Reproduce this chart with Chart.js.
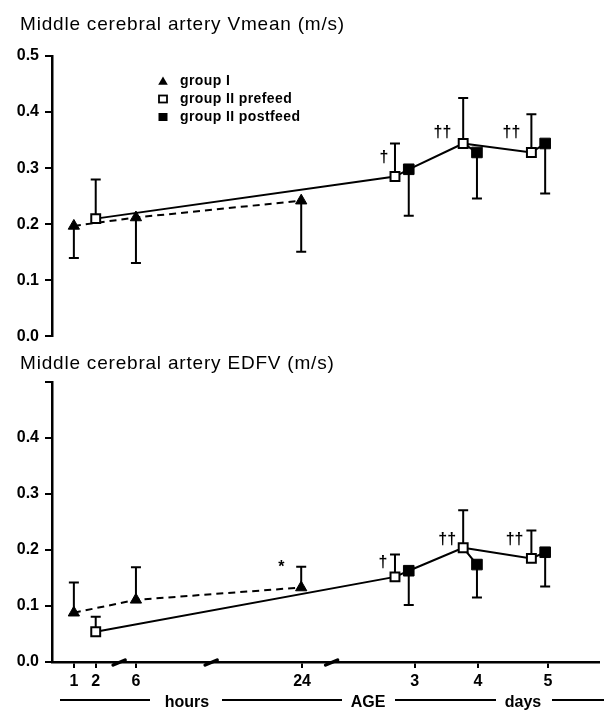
<!DOCTYPE html>
<html>
<head>
<meta charset="utf-8">
<script src="https://cdn.jsdelivr.net/npm/chart.js@4.4.0/dist/chart.umd.min.js"></script>
<style>
  html, body { margin: 0; padding: 0; background: #fff; }
  canvas { display: block; }
  #edfvChart { margin-top: -7px; position: relative; }
</style>
</head>
<body>
<canvas id="vmeanChart" width="607" height="352"></canvas>
<canvas id="edfvChart" width="607" height="365"></canvas>
<script>
// age axis is broken, so points sit on a 0..25 "axis unit" scale
const tickPos = [1, 2, 3.84, 11.44, 16.59, 19.48, 22.69];
const tickLabels = ['1', '2', '6', '24', '3', '4', '5'];
const breakPos = [3.07, 7.28, 12.79];

const groupIx = [1, 3.84, 11.4];       // 1 h, 6 h, 24 h
const prefeedX = [2, 15.69, 18.81, 21.93];  // 2 h, day 3, 4, 5
const postfeedX = [16.32, 19.44, 22.56];    // day 3, 4, 5

// Vmean (m/s)
const vmeanGroupI = [0.197, 0.212, 0.242];
const vmeanGroupILow = [0.140, 0.131, 0.151];
const vmeanPre = [0.210, 0.285, 0.344, 0.328];
const vmeanPreHigh = [0.280, 0.344, 0.425, 0.396];
const vmeanPost = [0.298, 0.328, 0.344];
const vmeanPostLow = [0.215, 0.246, 0.255];

// EDFV (m/s)
const edfvGroupI = [0.088, 0.111, 0.133];
const edfvGroupIHigh = [0.142, 0.169, 0.170];
const edfvPre = [0.054, 0.152, 0.204, 0.185];
const edfvPreHigh = [0.081, 0.192, 0.271, 0.235];
const edfvPost = [0.163, 0.174, 0.196];
const edfvPostLow = [0.102, 0.115, 0.135];

// significance marks
const vmeanMarkText = ['\u2020', '\u2020\u2020', '\u2020\u2020'];
const vmeanMarkX = [15.19, 17.86, 21.02];
const vmeanMarkY = [0.319, 0.364, 0.364];
const edfvMarkText = ['*', '\u2020', '\u2020\u2020', '\u2020\u2020'];
const edfvMarkX = [10.49, 15.14, 18.08, 21.16];
const edfvMarkY = [0.168, 0.177, 0.218, 0.218];

const legendLabels = ['group I', 'group II prefeed', 'group II postfeed'];

const FONT = "'Liberation Sans', Arial, sans-serif";

function pts(xs, ys) {
  return xs.map((x, i) => ({ x: x, y: ys[i] }));
}

// group II line: 2h -> d3 pre -> d3 post -> d4 pre -> d4 post, then d4 pre -> d5 pre -> d5 post
function groupIIPath(pre, post) {
  return [
    { x: prefeedX[0], y: pre[0] },
    { x: prefeedX[1], y: pre[1] },
    { x: postfeedX[0], y: post[0] },
    { x: prefeedX[2], y: pre[2] },
    { x: postfeedX[1], y: post[1] },
    { x: postfeedX[1] + 0.01, y: null },
    { x: prefeedX[2], y: pre[2] },
    { x: prefeedX[3], y: pre[3] },
    { x: postfeedX[2], y: post[2] }
  ];
}

function makeDatasets(gI, pre, post) {
  return [
    {
      label: 'group II prefeed', data: pts(prefeedX, pre), showLine: false,
      pointStyle: 'rect', pointRadius: 6.3, pointBackgroundColor: '#fff',
      pointBorderColor: '#000', pointBorderWidth: 2, order: 0
    },
    {
      label: 'group II postfeed', data: pts(postfeedX, post), showLine: false,
      pointStyle: 'rect', pointRadius: 7.5, pointBackgroundColor: '#000',
      pointBorderColor: '#000', pointBorderWidth: 1, order: 1
    },
    {
      label: 'group I', data: pts(groupIx, gI), showLine: true,
      borderColor: '#000', borderWidth: 2, borderDash: [7, 5],
      pointStyle: 'triangle', pointRadius: 6.5, pointBackgroundColor: '#000',
      pointBorderColor: '#000', pointBorderWidth: 1, order: 2
    },
    {
      label: 'group II', data: groupIIPath(pre, post), showLine: true, spanGaps: false,
      borderColor: '#000', borderWidth: 2, pointRadius: 0, order: 3
    }
  ];
}

function drawTri(ctx, x, y, r) {
  ctx.beginPath();
  ctx.moveTo(x, y - r);
  ctx.lineTo(x + r * 0.87, y + r * 0.5);
  ctx.lineTo(x - r * 0.87, y + r * 0.5);
  ctx.closePath();
  ctx.fill();
}

function makeOverlay(cfg) {
  return {
    id: 'overlay',
    beforeDatasetsDraw(chart) {
      const ctx = chart.ctx, xs = chart.scales.x, ys = chart.scales.y;
      ctx.save();
      ctx.strokeStyle = '#000';
      ctx.lineWidth = 2;
      cfg.bars.forEach(b => {
        b.x.forEach((xv, i) => {
          const px = xs.getPixelForValue(xv);
          const p0 = ys.getPixelForValue(b.y[i]);
          const p1 = ys.getPixelForValue(b.end[i]);
          ctx.beginPath();
          ctx.moveTo(px, p0);
          ctx.lineTo(px, p1);
          ctx.moveTo(px - 5, p1);
          ctx.lineTo(px + 5, p1);
          ctx.stroke();
        });
      });
      ctx.restore();
    },
    afterDraw(chart) {
      const ctx = chart.ctx, xs = chart.scales.x, ys = chart.scales.y;
      ctx.save();
      ctx.fillStyle = '#000';
      ctx.strokeStyle = '#000';

      // panel title
      ctx.font = '19px ' + FONT;
      ctx.letterSpacing = '0.8px';
      ctx.textAlign = 'left';
      ctx.textBaseline = 'alphabetic';
      ctx.fillText(cfg.title, 20, cfg.titleY);
      ctx.letterSpacing = '0px';

      // significance marks
      ctx.font = 'bold 16px ' + FONT;
      ctx.textAlign = 'center';
      ctx.textBaseline = 'middle';
      cfg.marks.text.forEach((t, i) => {
        ctx.fillText(t, xs.getPixelForValue(cfg.marks.x[i]), ys.getPixelForValue(cfg.marks.y[i]));
      });

      if (cfg.legend) {
        const lx = 163, rows = [81, 99, 117];
        drawTri(ctx, lx, rows[0] + 1, 5.5);
        ctx.lineWidth = 1.8;
        ctx.fillStyle = '#fff';
        ctx.fillRect(lx - 4, rows[1] - 3.5, 8, 7);
        ctx.strokeRect(lx - 4, rows[1] - 3.5, 8, 7);
        ctx.fillStyle = '#000';
        ctx.fillRect(lx - 4.5, rows[2] - 4, 9, 8);
        ctx.font = 'bold 14px ' + FONT;
        ctx.letterSpacing = '0.4px';
        ctx.textAlign = 'left';
        legendLabels.forEach((t, i) => ctx.fillText(t, 180, rows[i]));
        ctx.letterSpacing = '0px';
      }

      if (cfg.axisBreaks) {
        const ay = chart.chartArea.bottom;
        ctx.lineWidth = 3.5;
        ctx.lineCap = 'round';
        breakPos.forEach(v => {
          const px = xs.getPixelForValue(v);
          ctx.beginPath();
          ctx.moveTo(px - 6, ay + 3);
          ctx.lineTo(px + 6, ay - 2);
          ctx.stroke();
        });

        // "hours --- AGE --- days ---" row
        const rowY = 355, textY = 362;
        ctx.font = 'bold 16px ' + FONT;
        ctx.textAlign = 'center';
        ctx.textBaseline = 'alphabetic';
        const words = [['hours', 187], ['AGE', 368], ['days', 523]];
        words.forEach(w => ctx.fillText(w[0], w[1], textY));
        ctx.lineWidth = 2;
        ctx.lineCap = 'butt';
        const segs = [[60, 150], [222, 342], [395, 496], [552, 604]];
        segs.forEach(s => {
          ctx.beginPath();
          ctx.moveTo(s[0], rowY);
          ctx.lineTo(s[1], rowY);
          ctx.stroke();
        });
      }
      ctx.restore();
    }
  };
}

function yAxis(hideTop) {
  return {
    min: 0, max: 0.5,
    afterFit: s => { s.width = 52; },
    ticks: {
      stepSize: 0.1, color: '#000', padding: 6,
      font: { family: FONT, size: 16, weight: 'bold' },
      callback: v => (hideTop && v > 0.45) ? '' : v.toFixed(1)
    },
    grid: { drawOnChartArea: false, tickLength: 7, color: '#000', lineWidth: 2 },
    border: { color: '#000', width: 2.5 }
  };
}

function xAxis(show) {
  return {
    type: 'linear', min: 0, max: 25, display: show,
    afterBuildTicks: s => { s.ticks = tickPos.map(v => ({ value: v })); },
    afterFit: s => { s.height = show ? 48 : 0; },
    ticks: {
      color: '#000', padding: 4, maxRotation: 0, autoSkip: false,
      font: { family: FONT, size: 16, weight: 'bold' },
      callback: (v, i) => tickLabels[i]
    },
    grid: { drawOnChartArea: false, tickLength: 6, color: '#000', lineWidth: 2 },
    border: { color: '#000', width: 2.5 }
  };
}

const baseOptions = {
  responsive: false,
  animation: false,
  plugins: { legend: { display: false }, tooltip: { enabled: false } }
};

new Chart(document.getElementById('vmeanChart'), {
  type: 'scatter',
  data: { datasets: makeDatasets(vmeanGroupI, vmeanPre, vmeanPost) },
  options: Object.assign({}, baseOptions, {
    layout: { padding: { top: 56, bottom: 3, left: 0, right: 2 } },
    scales: { x: xAxis(false), y: yAxis(false) }
  }),
  plugins: [makeOverlay({
    title: 'Middle cerebral artery Vmean (m/s)', titleY: 30, legend: true, axisBreaks: false,
    bars: [
      { x: groupIx, y: vmeanGroupI, end: vmeanGroupILow },
      { x: prefeedX, y: vmeanPre, end: vmeanPreHigh },
      { x: postfeedX, y: vmeanPost, end: vmeanPostLow }
    ],
    marks: { text: vmeanMarkText, x: vmeanMarkX, y: vmeanMarkY }
  })]
});

new Chart(document.getElementById('edfvChart'), {
  type: 'scatter',
  data: { datasets: makeDatasets(edfvGroupI, edfvPre, edfvPost) },
  options: Object.assign({}, baseOptions, {
    layout: { padding: { top: 37, bottom: 0, left: 0, right: 2 } },
    scales: { x: xAxis(true), y: yAxis(true) }
  }),
  plugins: [makeOverlay({
    title: 'Middle cerebral artery EDFV (m/s)', titleY: 24, legend: false, axisBreaks: true,
    bars: [
      { x: groupIx, y: edfvGroupI, end: edfvGroupIHigh },
      { x: prefeedX, y: edfvPre, end: edfvPreHigh },
      { x: postfeedX, y: edfvPost, end: edfvPostLow }
    ],
    marks: { text: edfvMarkText, x: edfvMarkX, y: edfvMarkY }
  })]
});
</script>
</body>
</html>
